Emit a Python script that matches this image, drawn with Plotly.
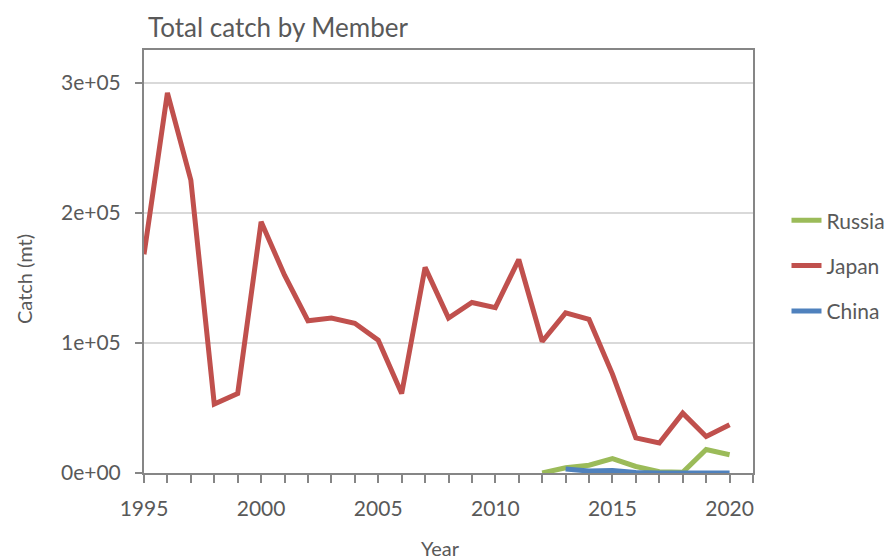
import plotly.graph_objects as go

# ── Data ──────────────────────────────────────────────────────────────────
YEARS = list(range(1995, 2021))

JAPAN = [168000, 292000, 225000, 53000, 61000, 193000, 152000, 117000, 119000,
         115000, 102000, 61000, 158000, 119000, 131000, 127000, 164000, 101000,
         123000, 118000, 76000, 27000, 23000, 46000, 28000, 37000]

RUSSIA_YEARS = list(range(2012, 2021))
RUSSIA = [0, 4000, 6000, 11000, 5000, 1000, 500, 18000, 14000]

CHINA_YEARS = list(range(2013, 2021))
CHINA = [3000, 1500, 2000, 300, 0, 0, 0, 0]

Y_TICKS = [0, 100000, 200000, 300000]
Y_TICK_TEXT = ["0e+00", "1e+05", "2e+05", "3e+05"]

# ── Style ─────────────────────────────────────────────────────────────────
FONT = "Lato, Carlito, Calibri, sans-serif"
TEXT = "#595959"
AXIS = "#868686"
GRID = "#D9D9D9"
PAGE_OFF = 8  # browser default body margin

fig = go.Figure()
for name, xs, ys, color in [
    ("Russia", RUSSIA_YEARS, RUSSIA, "#9BBB59"),
    ("Japan", YEARS, JAPAN, "#C0504D"),
    ("China", CHINA_YEARS, CHINA, "#4F81BD"),
]:
    fig.add_trace(go.Scatter(
        x=xs, y=ys, mode="lines", name=name, legendgroup=name,
        line=dict(color=color, width=5),
    ))

fig.update_layout(
    width=896, height=559,
    paper_bgcolor="white", plot_bgcolor="white",
    font=dict(family=FONT, color=TEXT, size=21),
    margin=dict(l=144 - PAGE_OFF, r=151, t=50 - PAGE_OFF, b=94),
    title=dict(
        text="Total catch by Member",
        font=dict(size=26, color=TEXT, family=FONT),
        x=(148 - PAGE_OFF) / 896, xanchor="left", xref="container",
        y=1 - (28 - PAGE_OFF) / 559, yanchor="middle", yref="container",
    ),
    showlegend=True,
    legend=dict(
        x=1.055, xanchor="left", y=0.645, yanchor="top",
        font=dict(size=21, color=TEXT, family=FONT),
        tracegroupgap=15, itemwidth=30,
        bgcolor="rgba(0,0,0,0)",
    ),
    xaxis=dict(
        range=[1995, 2021], tick0=1995, dtick=5,
        showgrid=False, zeroline=False,
        showline=True, linecolor=AXIS, linewidth=2, mirror=True,
        ticks="outside", ticklen=8, tickcolor=AXIS, tickwidth=1.5,
        tickfont=dict(size=21, color=TEXT, family=FONT),
        ticklabelstandoff=8,
        minor=dict(dtick=1, ticks="outside", ticklen=8, tickcolor=AXIS,
                   tickwidth=1.5, showgrid=False),
    ),
    yaxis=dict(
        range=[0, 325000], tickvals=Y_TICKS, ticktext=Y_TICK_TEXT,
        showgrid=True, gridcolor=GRID, gridwidth=1.5, zeroline=False,
        showline=True, linecolor=AXIS, linewidth=2, mirror=True,
        ticks="outside", ticklen=7, tickcolor=AXIS, tickwidth=1.5,
        tickfont=dict(size=21, color=TEXT, family=FONT),
        ticklabelstandoff=10,
    ),
)

fig.add_annotation(
    text="Catch (mt)", textangle=-90, showarrow=False,
    xref="paper", x=-(144 - 24) / 609, xanchor="center",
    yref="paper", y=(473 - 279) / 423, yanchor="middle",
    font=dict(size=20, color=TEXT, family=FONT),
)
fig.add_annotation(
    text="Year", showarrow=False,
    xref="paper", x=(440 - 144) / 609, xanchor="center",
    yref="paper", y=-(548 - 473) / 423, yanchor="middle",
    font=dict(size=20, color=TEXT, family=FONT),
)

fig.write_html("out.html")
